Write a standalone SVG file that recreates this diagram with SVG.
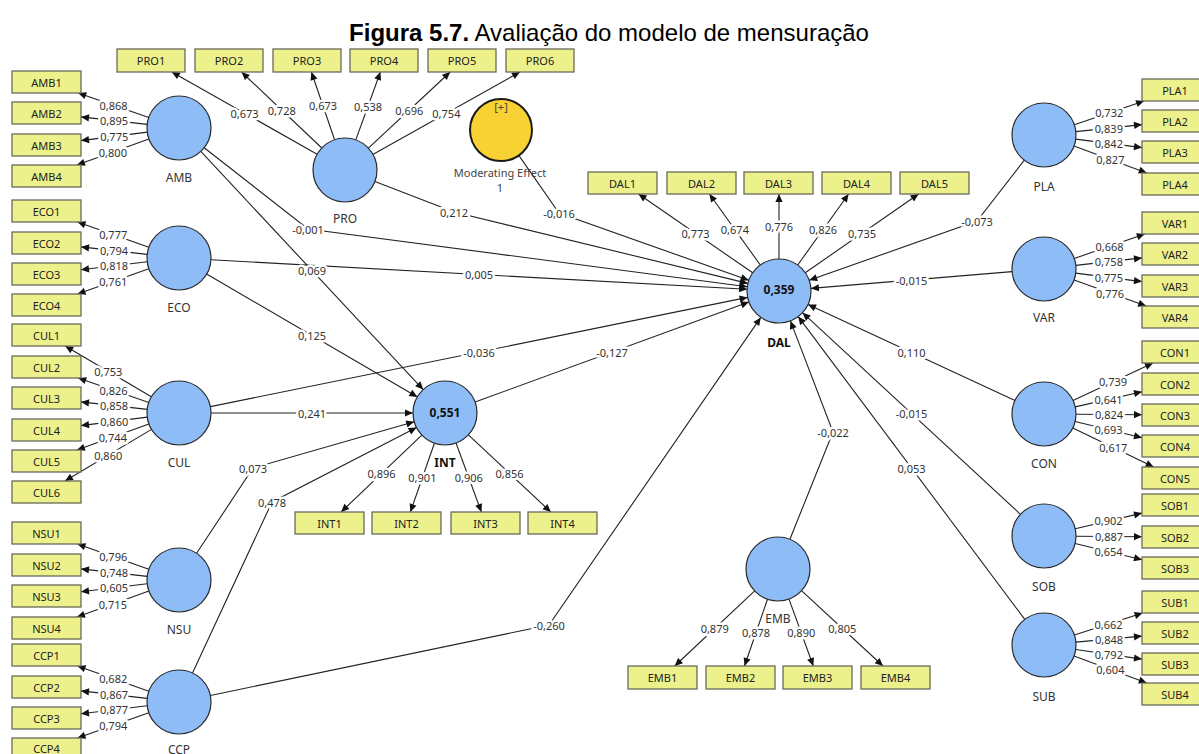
<svg xmlns="http://www.w3.org/2000/svg" width="1199" height="754" viewBox="0 0 1199 754">
<style>
.box{fill:#EDF18B;stroke:#6a6a5a;stroke-width:1.3}
.lv{fill:#8EBCF6;stroke:#2a2a2a;stroke-width:1.2}
.mod{fill:#F8D232;stroke:#1a1a1a;stroke-width:2}
.bt{font-family:"Noto Sans","Open Sans",sans-serif;font-size:11px;fill:#222;text-anchor:middle;dominant-baseline:central}
.nl{font-family:"Noto Sans","Open Sans",sans-serif;font-size:12px;fill:#333;text-anchor:middle;dominant-baseline:central}
.ml{font-family:"Noto Sans","Open Sans",sans-serif;font-size:11px;fill:#444;text-anchor:middle;dominant-baseline:central}
.nb{font-family:"Noto Sans","Open Sans",sans-serif;font-size:12px;font-weight:bold;fill:#111;text-anchor:middle;dominant-baseline:central}
.w{font-family:"Noto Sans","Open Sans",sans-serif;font-size:11px;fill:#333;text-anchor:middle;dominant-baseline:central;stroke:#fff;stroke-width:5;paint-order:stroke;stroke-linejoin:round}
.c{fill:none;stroke:#222;stroke-width:1.1;marker-end:url(#ah)}
.title{font-family:"Liberation Sans",Arial,sans-serif;font-size:24px;fill:#000;text-anchor:middle}
</style>
<defs>
<marker id="ah" viewBox="0 0 10 10" refX="10" refY="5" markerWidth="9" markerHeight="8" markerUnits="userSpaceOnUse" orient="auto"><path d="M0,0.5 L10,5 L0,9.5 z" fill="#111"/></marker>
</defs>
<rect width="1199" height="754" fill="#fff"/>
<text class="title" x="609" y="41"><tspan font-weight="bold">Figura 5.7.</tspan> Avaliação do modelo de mensuração</text>

<g id="connectors">
<path class="c" d="M148.8,117.5 L78.2,93"/><path class="c" d="M147.2,124.4 L81,116.9"/><path class="c" d="M147.3,132.1 L81,140.6"/><path class="c" d="M148.9,138.9 L76.9,165"/>
<path class="c" d="M148.8,247.3 L77.5,222"/><path class="c" d="M147.2,254.4 L81,246.9"/><path class="c" d="M147.2,261.8 L81,269.8"/><path class="c" d="M148.8,268.7 L77.5,294"/>
<path class="c" d="M151.4,396.8 L65.2,346"/><path class="c" d="M148.8,402.5 L78.2,378"/><path class="c" d="M147.2,409.4 L81,401.9"/><path class="c" d="M147.3,417.1 L81,425.6"/><path class="c" d="M148.9,423.9 L76.9,450"/><path class="c" d="M151.5,429.4 L65,481"/>
<path class="c" d="M148.8,569.3 L77.5,544"/><path class="c" d="M147.2,576.4 L81,568.9"/><path class="c" d="M147.2,583.8 L81,591.8"/><path class="c" d="M148.9,590.9 L76.9,617"/>
<path class="c" d="M148.8,691.3 L77.5,666"/><path class="c" d="M147.2,698.4 L81,690.9"/><path class="c" d="M147.2,705.8 L81,713.8"/><path class="c" d="M148.8,712.7 L77.5,738"/>
<path class="c" d="M1074.3,124.7 L1144.1,101"/><path class="c" d="M1075.8,131.6 L1142,124.6"/><path class="c" d="M1075.7,139.1 L1142,147.6"/><path class="c" d="M1074,146.1 L1146.8,173"/>
<path class="c" d="M1074.2,258.5 L1144.8,234"/><path class="c" d="M1075.8,265.4 L1142,257.9"/><path class="c" d="M1075.7,273.1 L1142,281.6"/><path class="c" d="M1074.1,279.9 L1146.2,306"/>
<path class="c" d="M1073,400.4 L1153,363"/><path class="c" d="M1075.2,406.9 L1142,391.8"/><path class="c" d="M1076,414.2 L1142,414.7"/><path class="c" d="M1075.1,421.5 L1142,437.7"/><path class="c" d="M1072.8,427.9 L1153.7,467"/>
<path class="c" d="M1075.2,528.7 L1142,513.1"/><path class="c" d="M1076,536.2 L1142,536.7"/><path class="c" d="M1075.1,543.5 L1142,559.7"/>
<path class="c" d="M1074.4,635.1 L1142.6,613"/><path class="c" d="M1075.9,642.1 L1142,636.1"/><path class="c" d="M1075.7,649.5 L1142,659.1"/><path class="c" d="M1074,656.1 L1146.8,683"/>
<path class="c" d="M317.1,154.2 L171.8,72"/><path class="c" d="M321.8,148 L241.6,72"/><path class="c" d="M334.6,139.7 L311.4,72"/><path class="c" d="M355.8,139.9 L380.4,72"/><path class="c" d="M368.4,148.2 L450.2,72"/><path class="c" d="M372.8,154.4 L520,72"/>
<path class="c" d="M752.7,272.8 L638.5,194"/><path class="c" d="M760.3,265 L709.4,194"/><path class="c" d="M779,259 L779,194"/><path class="c" d="M797.7,265 L848.6,194"/><path class="c" d="M805.3,272.7 L918.6,194"/>
<path class="c" d="M421.8,435.1 L341.1,512"/><path class="c" d="M434.4,443.2 L410.4,512"/><path class="c" d="M456.1,443.2 L481.4,512"/><path class="c" d="M468.4,434.9 L550.8,512"/>
<path class="c" d="M754.7,590.9 L674.7,666"/><path class="c" d="M767.5,599.2 L744.5,666"/><path class="c" d="M789,599.1 L813.3,666"/><path class="c" d="M801.5,590.7 L883,666"/>
<path class="c" d="M204.2,147.7 L308,229 L747.3,286.8"/>
<path class="c" d="M374.9,181.5 L454,212 L747.9,283.4"/>
<path class="c" d="M518.8,155.4 L559,213 L748.8,280.3"/>
<path class="c" d="M211,259.8 L747.1,289.2"/>
<path class="c" d="M210.4,406.6 L747.6,297.4"/>
<path class="c" d="M475.1,402 L748.9,302"/>
<path class="c" d="M210.3,695.5 L549,625 L760.8,317.4"/>
<path class="c" d="M789.9,539.3 L833,432 L790.4,320.9"/>
<path class="c" d="M1024.3,160.2 L977,221 L809.2,280.3"/>
<path class="c" d="M1012.1,271.6 L810.9,288.4"/>
<path class="c" d="M1015,400.5 L808,304.5"/>
<path class="c" d="M1020.5,514.3 L802.5,312.7"/>
<path class="c" d="M1024.8,619.4 L798.2,316.6"/>
<path class="c" d="M200.8,151.4 L423.2,389.6"/>
<path class="c" d="M206.6,274.1 L417.4,396.9"/>
<path class="c" d="M211,413 L413,413"/>
<path class="c" d="M196.6,553.3 L253,468 L414.2,421.8"/>
<path class="c" d="M192.5,673 L272,502 L416.6,427.6"/>
<text class="w" x="113.5" y="105.3">0,868</text><text class="w" x="114.1" y="120.6">0,895</text><text class="w" x="114.2" y="136.4">0,775</text><text class="w" x="112.9" y="152">0,800</text>
<text class="w" x="113.2" y="234.7">0,777</text><text class="w" x="114.1" y="250.7">0,794</text><text class="w" x="114.1" y="265.8">0,818</text><text class="w" x="113.2" y="281.4">0,761</text>
<text class="w" x="108.3" y="371.4">0,753</text><text class="w" x="113.5" y="390.3">0,826</text><text class="w" x="114.1" y="405.6">0,858</text><text class="w" x="114.2" y="421.4">0,860</text><text class="w" x="112.9" y="437">0,744</text><text class="w" x="108.2" y="455.2">0,860</text>
<text class="w" x="113.2" y="556.7">0,796</text><text class="w" x="114.1" y="572.7">0,748</text><text class="w" x="114.1" y="587.8">0,605</text><text class="w" x="112.9" y="604">0,715</text>
<text class="w" x="113.2" y="678.7">0,682</text><text class="w" x="114.1" y="694.7">0,867</text><text class="w" x="114.1" y="709.8">0,877</text><text class="w" x="113.2" y="725.4">0,794</text>
<text class="w" x="1109.2" y="112.9">0,732</text><text class="w" x="1108.9" y="128.1">0,839</text><text class="w" x="1108.9" y="143.3">0,842</text><text class="w" x="1110.4" y="159.6">0,827</text>
<text class="w" x="1109.5" y="246.3">0,668</text><text class="w" x="1108.9" y="261.7">0,758</text><text class="w" x="1108.9" y="277.3">0,775</text><text class="w" x="1110.1" y="293">0,776</text>
<text class="w" x="1113" y="381.7">0,739</text><text class="w" x="1108.6" y="399.4">0,641</text><text class="w" x="1109" y="414.5">0,824</text><text class="w" x="1108.6" y="429.6">0,693</text><text class="w" x="1113.3" y="447.5">0,617</text>
<text class="w" x="1108.6" y="520.9">0,902</text><text class="w" x="1109" y="536.5">0,887</text><text class="w" x="1108.6" y="551.6">0,654</text>
<text class="w" x="1108.5" y="624">0,662</text><text class="w" x="1109" y="639.1">0,848</text><text class="w" x="1108.9" y="654.3">0,792</text><text class="w" x="1110.4" y="669.6">0,604</text>
<text class="w" x="244.5" y="113.1">0,673</text><text class="w" x="281.7" y="110">0,728</text><text class="w" x="323" y="105.9">0,673</text><text class="w" x="368.1" y="106">0,538</text><text class="w" x="409.3" y="110.1">0,696</text><text class="w" x="446.4" y="113.2">0,754</text>
<text class="w" x="695.6" y="233.4">0,773</text><text class="w" x="734.9" y="229.5">0,674</text><text class="w" x="779" y="226.5">0,776</text><text class="w" x="823.1" y="229.5">0,826</text><text class="w" x="862" y="233.4">0,735</text>
<text class="w" x="381.5" y="473.5">0,896</text><text class="w" x="422.4" y="477.6">0,901</text><text class="w" x="468.8" y="477.6">0,906</text><text class="w" x="509.6" y="473.5">0,856</text>
<text class="w" x="714.7" y="628.5">0,879</text><text class="w" x="756" y="632.6">0,878</text><text class="w" x="801.2" y="632.6">0,890</text><text class="w" x="842.3" y="628.4">0,805</text>
<text class="w" x="308" y="229">-0,001</text><text class="w" x="454" y="212">0,212</text><text class="w" x="559" y="213">-0,016</text><text class="w" x="479" y="274.5">0,005</text>
<text class="w" x="479" y="352">-0,036</text><text class="w" x="612" y="352">-0,127</text><text class="w" x="549" y="625">-0,260</text><text class="w" x="833" y="432">-0,022</text>
<text class="w" x="977" y="221">-0,073</text><text class="w" x="911.5" y="280">-0,015</text><text class="w" x="911.5" y="352.5">0,110</text><text class="w" x="911.5" y="413.5">-0,015</text><text class="w" x="911.5" y="468">0,053</text>
<text class="w" x="312" y="270.5">0,069</text><text class="w" x="312" y="335.5">0,125</text><text class="w" x="312" y="413">0,241</text><text class="w" x="253" y="468">0,073</text><text class="w" x="272" y="502">0,478</text>
</g>

<g id="AMB"><circle class="lv" cx="179" cy="128" r="32"/><text class="nl" x="179" y="177">AMB</text></g>
<g id="ECO"><circle class="lv" cx="179" cy="258" r="32"/><text class="nl" x="179" y="307">ECO</text></g>
<g id="CUL"><circle class="lv" cx="179" cy="413" r="32"/><text class="nl" x="179" y="462">CUL</text></g>
<g id="NSU"><circle class="lv" cx="179" cy="580" r="32"/><text class="nl" x="179" y="629">NSU</text></g>
<g id="CCP"><circle class="lv" cx="179" cy="702" r="32"/><text class="nl" x="179" y="749">CCP</text></g>
<g id="PRO"><circle class="lv" cx="345" cy="170" r="32"/><text class="nl" x="345" y="218">PRO</text></g>
<g id="MOD"><circle class="mod" cx="501" cy="130" r="31"/><text class="ml" x="501" y="106">[+]</text><text class="ml" x="500" y="172">Moderating Effect</text><text class="ml" x="500" y="187">1</text></g>
<g id="INT"><circle class="lv" cx="445" cy="413" r="32"/><text class="nb" x="445" y="412">0,551</text><text class="nb" x="445" y="462">INT</text></g>
<g id="DAL"><circle class="lv" cx="779" cy="291" r="32"/><text class="nb" x="779" y="289">0,359</text><text class="nb" x="779" y="342">DAL</text></g>
<g id="EMB"><circle class="lv" cx="778" cy="569" r="32"/><text class="nl" x="778" y="618">EMB</text></g>
<g id="PLA"><circle class="lv" cx="1044" cy="135" r="32"/><text class="nl" x="1044" y="186">PLA</text></g>
<g id="VAR"><circle class="lv" cx="1044" cy="269" r="32"/><text class="nl" x="1044" y="317">VAR</text></g>
<g id="CON"><circle class="lv" cx="1044" cy="414" r="32"/><text class="nl" x="1044" y="463">CON</text></g>
<g id="SOB"><circle class="lv" cx="1044" cy="536" r="32"/><text class="nl" x="1044" y="586">SOB</text></g>
<g id="SUB"><circle class="lv" cx="1044" cy="645" r="32"/><text class="nl" x="1044" y="696">SUB</text></g>

<g id="AMB1"><rect class="box" x="12" y="71" width="69" height="22"/><text class="bt" x="46.5" y="82">AMB1</text></g>
<g id="AMB2"><rect class="box" x="12" y="102" width="69" height="22"/><text class="bt" x="46.5" y="113">AMB2</text></g>
<g id="AMB3"><rect class="box" x="12" y="134" width="69" height="22"/><text class="bt" x="46.5" y="145">AMB3</text></g>
<g id="AMB4"><rect class="box" x="12" y="165" width="69" height="22"/><text class="bt" x="46.5" y="176">AMB4</text></g>
<g id="ECO1"><rect class="box" x="12" y="200" width="69" height="22"/><text class="bt" x="46.5" y="211">ECO1</text></g>
<g id="ECO2"><rect class="box" x="12" y="232" width="69" height="22"/><text class="bt" x="46.5" y="243">ECO2</text></g>
<g id="ECO3"><rect class="box" x="12" y="263" width="69" height="22"/><text class="bt" x="46.5" y="274">ECO3</text></g>
<g id="ECO4"><rect class="box" x="12" y="294" width="69" height="22"/><text class="bt" x="46.5" y="305">ECO4</text></g>
<g id="CUL1"><rect class="box" x="12" y="324" width="69" height="22"/><text class="bt" x="46.5" y="335">CUL1</text></g>
<g id="CUL2"><rect class="box" x="12" y="356" width="69" height="22"/><text class="bt" x="46.5" y="367">CUL2</text></g>
<g id="CUL3"><rect class="box" x="12" y="387" width="69" height="22"/><text class="bt" x="46.5" y="398">CUL3</text></g>
<g id="CUL4"><rect class="box" x="12" y="419" width="69" height="22"/><text class="bt" x="46.5" y="430">CUL4</text></g>
<g id="CUL5"><rect class="box" x="12" y="450" width="69" height="22"/><text class="bt" x="46.5" y="461">CUL5</text></g>
<g id="CUL6"><rect class="box" x="12" y="481" width="69" height="22"/><text class="bt" x="46.5" y="492">CUL6</text></g>
<g id="NSU1"><rect class="box" x="12" y="522" width="69" height="22"/><text class="bt" x="46.5" y="533">NSU1</text></g>
<g id="NSU2"><rect class="box" x="12" y="554" width="69" height="22"/><text class="bt" x="46.5" y="565">NSU2</text></g>
<g id="NSU3"><rect class="box" x="12" y="585" width="69" height="22"/><text class="bt" x="46.5" y="596">NSU3</text></g>
<g id="NSU4"><rect class="box" x="12" y="617" width="69" height="22"/><text class="bt" x="46.5" y="628">NSU4</text></g>
<g id="CCP1"><rect class="box" x="12" y="644" width="69" height="22"/><text class="bt" x="46.5" y="655">CCP1</text></g>
<g id="CCP2"><rect class="box" x="12" y="676" width="69" height="22"/><text class="bt" x="46.5" y="687">CCP2</text></g>
<g id="CCP3"><rect class="box" x="12" y="707" width="69" height="22"/><text class="bt" x="46.5" y="718">CCP3</text></g>
<g id="CCP4"><rect class="box" x="12" y="738" width="69" height="22"/><text class="bt" x="46.5" y="748">CCP4</text></g>
<g id="PRO1"><rect class="box" x="117" y="49" width="68" height="23"/><text class="bt" x="151" y="60.5">PRO1</text></g>
<g id="PRO2"><rect class="box" x="195" y="49" width="68" height="23"/><text class="bt" x="229" y="60.5">PRO2</text></g>
<g id="PRO3"><rect class="box" x="273" y="49" width="68" height="23"/><text class="bt" x="307" y="60.5">PRO3</text></g>
<g id="PRO4"><rect class="box" x="350" y="49" width="68" height="23"/><text class="bt" x="384" y="60.5">PRO4</text></g>
<g id="PRO5"><rect class="box" x="428" y="49" width="68" height="23"/><text class="bt" x="462" y="60.5">PRO5</text></g>
<g id="PRO6"><rect class="box" x="506" y="49" width="68" height="23"/><text class="bt" x="540" y="60.5">PRO6</text></g>
<g id="DAL1"><rect class="box" x="588" y="172" width="69" height="22"/><text class="bt" x="622.5" y="183">DAL1</text></g>
<g id="DAL2"><rect class="box" x="667" y="172" width="69" height="22"/><text class="bt" x="701.5" y="183">DAL2</text></g>
<g id="DAL3"><rect class="box" x="744" y="172" width="69" height="22"/><text class="bt" x="778.5" y="183">DAL3</text></g>
<g id="DAL4"><rect class="box" x="822" y="172" width="69" height="22"/><text class="bt" x="856.5" y="183">DAL4</text></g>
<g id="DAL5"><rect class="box" x="900" y="172" width="69" height="22"/><text class="bt" x="934.5" y="183">DAL5</text></g>
<g id="INT1"><rect class="box" x="295" y="512" width="69" height="22"/><text class="bt" x="329.5" y="523">INT1</text></g>
<g id="INT2"><rect class="box" x="372" y="512" width="69" height="22"/><text class="bt" x="406.5" y="523">INT2</text></g>
<g id="INT3"><rect class="box" x="451" y="512" width="69" height="22"/><text class="bt" x="485.5" y="523">INT3</text></g>
<g id="INT4"><rect class="box" x="528" y="512" width="69" height="22"/><text class="bt" x="562.5" y="523">INT4</text></g>
<g id="EMB1"><rect class="box" x="628" y="666" width="69" height="23"/><text class="bt" x="662.5" y="677.5">EMB1</text></g>
<g id="EMB2"><rect class="box" x="706" y="666" width="69" height="23"/><text class="bt" x="740.5" y="677.5">EMB2</text></g>
<g id="EMB3"><rect class="box" x="783" y="666" width="69" height="23"/><text class="bt" x="817.5" y="677.5">EMB3</text></g>
<g id="EMB4"><rect class="box" x="861" y="666" width="69" height="23"/><text class="bt" x="895.5" y="677.5">EMB4</text></g>
<g id="PLA1"><rect class="box" x="1142" y="79" width="69" height="22"/><text class="bt" x="1175" y="90">PLA1</text></g>
<g id="PLA2"><rect class="box" x="1142" y="110" width="69" height="22"/><text class="bt" x="1175" y="121">PLA2</text></g>
<g id="PLA3"><rect class="box" x="1142" y="141" width="69" height="22"/><text class="bt" x="1175" y="152">PLA3</text></g>
<g id="PLA4"><rect class="box" x="1142" y="173" width="69" height="22"/><text class="bt" x="1175" y="184">PLA4</text></g>
<g id="VAR1"><rect class="box" x="1142" y="212" width="69" height="22"/><text class="bt" x="1175" y="223">VAR1</text></g>
<g id="VAR2"><rect class="box" x="1142" y="243" width="69" height="22"/><text class="bt" x="1175" y="254">VAR2</text></g>
<g id="VAR3"><rect class="box" x="1142" y="275" width="69" height="22"/><text class="bt" x="1175" y="286">VAR3</text></g>
<g id="VAR4"><rect class="box" x="1142" y="306" width="69" height="22"/><text class="bt" x="1175" y="317">VAR4</text></g>
<g id="CON1"><rect class="box" x="1142" y="341" width="69" height="22"/><text class="bt" x="1175" y="352">CON1</text></g>
<g id="CON2"><rect class="box" x="1142" y="373" width="69" height="22"/><text class="bt" x="1175" y="384">CON2</text></g>
<g id="CON3"><rect class="box" x="1142" y="404" width="69" height="22"/><text class="bt" x="1175" y="415">CON3</text></g>
<g id="CON4"><rect class="box" x="1142" y="435" width="69" height="22"/><text class="bt" x="1175" y="446">CON4</text></g>
<g id="CON5"><rect class="box" x="1142" y="467" width="69" height="22"/><text class="bt" x="1175" y="478">CON5</text></g>
<g id="SOB1"><rect class="box" x="1142" y="494" width="69" height="22"/><text class="bt" x="1175" y="505">SOB1</text></g>
<g id="SOB2"><rect class="box" x="1142" y="526" width="69" height="22"/><text class="bt" x="1175" y="537">SOB2</text></g>
<g id="SOB3"><rect class="box" x="1142" y="557" width="69" height="22"/><text class="bt" x="1175" y="568">SOB3</text></g>
<g id="SUB1"><rect class="box" x="1142" y="591" width="69" height="22"/><text class="bt" x="1175" y="602">SUB1</text></g>
<g id="SUB2"><rect class="box" x="1142" y="622" width="69" height="22"/><text class="bt" x="1175" y="633">SUB2</text></g>
<g id="SUB3"><rect class="box" x="1142" y="653" width="69" height="22"/><text class="bt" x="1175" y="664">SUB3</text></g>
<g id="SUB4"><rect class="box" x="1142" y="683" width="69" height="22"/><text class="bt" x="1175" y="694">SUB4</text></g>
</svg>
